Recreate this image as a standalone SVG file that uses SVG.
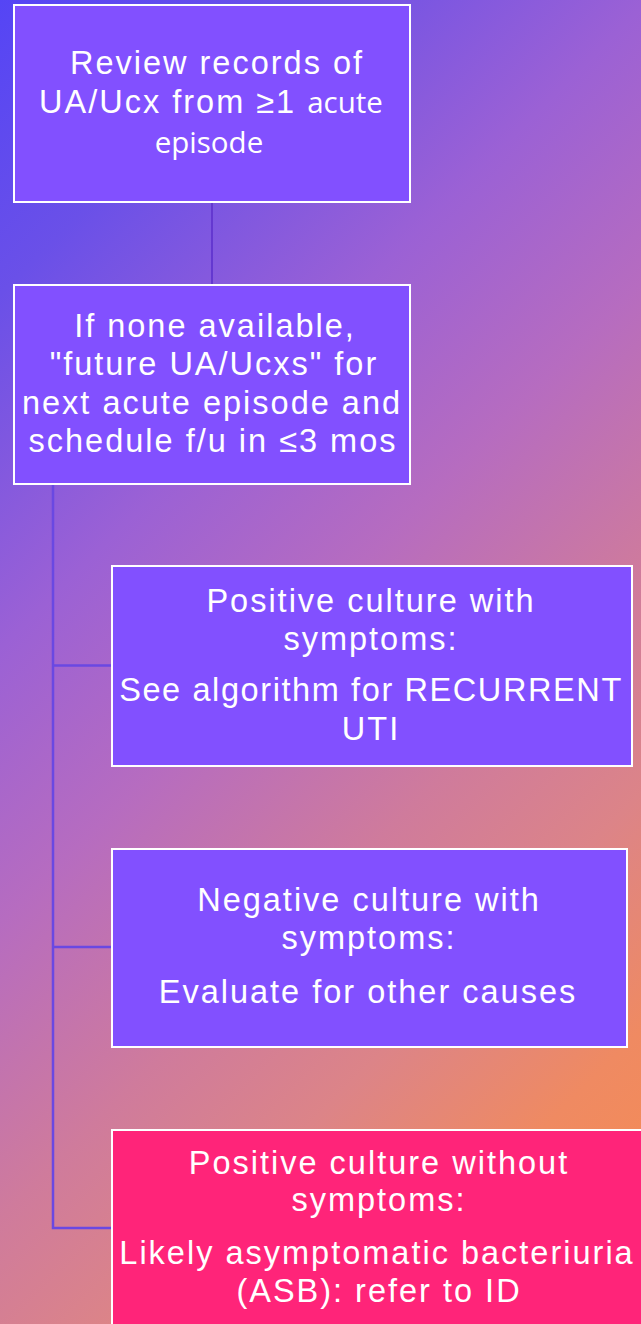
<svg xmlns="http://www.w3.org/2000/svg" width="641" height="1324" viewBox="0 0 641 1324">
  <defs>
    <linearGradient id="bg" gradientUnits="userSpaceOnUse" x1="0" y1="0" x2="982.5" y2="982.5">
      <stop offset="0" stop-color="#5545f5"/>
      <stop offset="0.15" stop-color="#6a50e8"/>
      <stop offset="0.33" stop-color="#9b61d5"/>
      <stop offset="0.47" stop-color="#b66cc0"/>
      <stop offset="0.62" stop-color="#cf7b9c"/>
      <stop offset="0.73" stop-color="#dc8488"/>
      <stop offset="0.85" stop-color="#ef8a62"/>
      <stop offset="1" stop-color="#f88c50"/>
    </linearGradient>
    <style>
      .box { fill: #8250ff; stroke: #ffffff; stroke-width: 2; }
      .pink { fill: #ff2479; }
      .t { font-family: "Liberation Sans", Arial, sans-serif; font-size: 32.5px; letter-spacing: 2px; fill: #ffffff; text-anchor: middle; }
      .alt { font-family: "Open Sans", "Noto Sans", sans-serif; font-size: 29.5px; letter-spacing: 0px; }
      .conn { stroke: #6a48e2; stroke-width: 2.5; fill: none; }
      .conn2 { stroke: #6438d0; stroke-width: 2; fill: none; }
    </style>
  </defs>
  <rect x="0" y="0" width="641" height="1324" fill="url(#bg)"/>

  <g id="connectors">
    <line class="conn2" x1="212" y1="202" x2="212" y2="285"/>
    <polyline class="conn" points="53,484 53,1228 112,1228"/>
    <line class="conn" x1="53" y1="665.5" x2="112" y2="665.5"/>
    <line class="conn" x1="53" y1="947" x2="112" y2="947"/>
  </g>

  <g id="node1">
    <rect class="box" x="14" y="5" width="396" height="197"/>
    <text class="t" x="217" y="74">Review records of</text>
    <text class="t" x="211" y="113">UA/Ucx from ≥1 <tspan class="alt">acute</tspan></text>
    <text class="t alt" x="209" y="153">episode</text>
  </g>

  <g id="node2">
    <rect class="box" x="14" y="285" width="396" height="199"/>
    <text class="t" x="215" y="337">If none available,</text>
    <text class="t" x="214" y="375">"future UA/Ucxs" for</text>
    <text class="t" x="212" y="413.5">next acute episode and</text>
    <text class="t" x="213" y="452">schedule f/u in ≤3 mos</text>
  </g>

  <g id="node3">
    <rect class="box" x="112" y="566" width="520" height="200"/>
    <text class="t" x="371" y="611.5">Positive culture with</text>
    <text class="t" x="371" y="649.5">symptoms:</text>
    <text class="t" x="371" y="701" style="letter-spacing:1.6px">See algorithm for RECURRENT</text>
    <text class="t" x="371" y="739.5">UTI</text>
  </g>

  <g id="node4">
    <rect class="box" x="112" y="849" width="515" height="198"/>
    <text class="t" x="369" y="911">Negative culture with</text>
    <text class="t" x="369" y="948.5">symptoms:</text>
    <text class="t" x="368" y="1003">Evaluate for other causes</text>
  </g>

  <g id="node5">
    <rect class="box pink" x="112" y="1130" width="540" height="210"/>
    <text class="t" x="379" y="1173.5">Positive culture without</text>
    <text class="t" x="379" y="1211">symptoms:</text>
    <text class="t" x="377" y="1264">Likely asymptomatic bacteriuria</text>
    <text class="t" x="379" y="1302">(ASB): refer to ID</text>
  </g>
</svg>
